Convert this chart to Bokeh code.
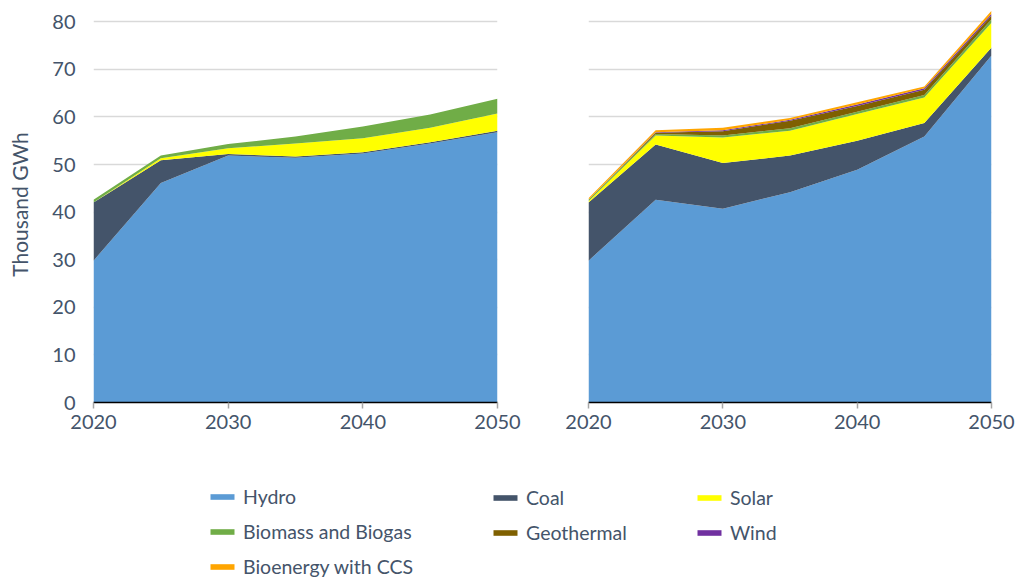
from bokeh.plotting import figure
from bokeh.layouts import column, row
from bokeh.models import ColumnDataSource, FixedTicker, Legend, LegendItem, Range1d
from bokeh.embed import file_html
from bokeh.resources import INLINE

years = [2020, 2025, 2030, 2035, 2040, 2045, 2050]
series = ["Hydro", "Coal", "Solar", "Biomass and Biogas", "Geothermal", "Wind", "Bioenergy with CCS"]
colors = ["#5B9BD5", "#44546A", "#FFFF00", "#70AD47", "#7F6000", "#7030A0", "#FFA500"]

# Left scenario (thousand GWh)
left_hydro = [29.8, 46.1, 51.9, 51.4, 52.3, 54.4, 56.8]
left_coal = [12.2, 4.8, 0.3, 0.3, 0.3, 0.3, 0.3]
left_solar = [0.0, 0.4, 1.2, 2.7, 2.9, 3.0, 3.6]
left_biomass = [0.6, 0.6, 0.9, 1.5, 2.5, 2.8, 3.1]
left_geothermal = [0.0, 0.0, 0.0, 0.0, 0.0, 0.0, 0.0]
left_wind = [0.0, 0.0, 0.0, 0.0, 0.0, 0.0, 0.0]
left_ccs = [0.0, 0.0, 0.0, 0.0, 0.0, 0.0, 0.0]

# Right scenario (thousand GWh)
right_hydro = [29.8, 42.6, 40.7, 44.2, 48.9, 55.9, 72.9]
right_coal = [12.2, 11.6, 9.6, 7.7, 6.1, 2.8, 1.7]
right_solar = [0.3, 1.9, 5.4, 5.2, 5.6, 5.4, 5.2]
right_biomass = [0.3, 0.3, 0.4, 0.5, 0.5, 0.5, 0.7]
right_geothermal = [0.0, 0.3, 0.9, 1.6, 1.2, 1.1, 0.8]
right_wind = [0.0, 0.1, 0.2, 0.2, 0.3, 0.3, 0.4]
right_ccs = [0.3, 0.4, 0.5, 0.4, 0.5, 0.4, 0.6]

y_ticks = [0, 10, 20, 30, 40, 50, 60, 70, 80]
x_ticks = [2020, 2030, 2040, 2050]

FONT = "Lato"
TXT = "#44546A"

left_vals = [left_hydro, left_coal, left_solar, left_biomass, left_geothermal, left_wind, left_ccs]
right_vals = [right_hydro, right_coal, right_solar, right_biomass, right_geothermal, right_wind, right_ccs]


def make_source(vals):
    d = {"year": years}
    for name, v in zip(series, vals):
        d[name] = v
    return ColumnDataSource(d)


def make_fig(vals, width, left_border, right_border, show_y):
    p = figure(width=width, height=442, output_backend="svg", toolbar_location=None,
               x_range=Range1d(2020, 2050), y_range=Range1d(0, 83.2),
               min_border_left=left_border, min_border_right=right_border,
               min_border_top=6, min_border_bottom=40)
    p.outline_line_color = None
    src = make_source(vals)
    p.varea_stack(stackers=series, x="year", color=colors, source=src)
    p.xgrid.grid_line_color = None
    p.ygrid.grid_line_color = "#D9D9D9"
    p.ygrid.grid_line_width = 1.5
    p.ygrid.ticker = FixedTicker(ticks=y_ticks)
    p.xaxis.ticker = FixedTicker(ticks=x_ticks)
    p.xaxis.axis_line_color = "#000000"
    p.xaxis.axis_line_width = 1.5
    p.xaxis.major_tick_line_color = "#A6A6A6"
    p.xaxis.major_tick_line_width = 1.5
    p.xaxis.major_tick_out = 6
    p.xaxis.major_tick_in = 0
    p.xaxis.minor_tick_line_color = None
    p.xaxis.major_label_text_font = FONT
    p.xaxis.major_label_text_font_size = "20px"
    p.xaxis.major_label_text_color = TXT
    p.xaxis.major_label_standoff = 6
    p.yaxis.ticker = FixedTicker(ticks=y_ticks)
    if show_y:
        p.yaxis.axis_line_color = None
        p.yaxis.major_tick_line_color = None
        p.yaxis.minor_tick_line_color = None
        p.yaxis.major_label_text_font = FONT
        p.yaxis.major_label_text_font_size = "20px"
        p.yaxis.major_label_text_color = TXT
        p.yaxis.major_label_standoff = 12
        p.yaxis.axis_label = "Thousand GWh"
        p.yaxis.axis_label_text_font = FONT
        p.yaxis.axis_label_text_font_size = "21px"
        p.yaxis.axis_label_text_font_style = "normal"
        p.yaxis.axis_label_text_color = TXT
        p.yaxis.axis_label_standoff = 17
    else:
        p.yaxis.visible = False
    return p


p1 = make_fig(left_vals, 522, 93, 25, True)
p2 = make_fig(right_vals, 499, 66, 30, False)

# Legend figure: the stacked series are drawn off-view, only their legend swatches show
pl = figure(width=1021, height=139, output_backend="svg", toolbar_location=None,
            x_range=Range1d(0, 1), y_range=Range1d(0, 1),
            min_border_left=0, min_border_right=0, min_border_top=0, min_border_bottom=0)
pl.axis.visible = False
pl.grid.visible = False
pl.outline_line_color = None
leg_renderers = pl.varea_stack(stackers=series, x="year", color=colors, source=make_source(right_vals))
renderers = dict(zip(series, leg_renderers))

columns = [
    (["Hydro", "Biomass and Biogas", "Bioenergy with CCS"], 207),
    (["Coal", "Geothermal"], 490),
    (["Solar", "Wind"], 694),
]
for names, xpos in columns:
    n = len(names)
    h = n * 22 + (n - 1) * 12
    bottom = 139 - 46 - h
    leg = Legend(items=[LegendItem(label=nm, renderers=[renderers[nm]]) for nm in names],
                 location=(xpos, bottom), orientation="vertical",
                 padding=0, margin=0, spacing=12, label_height=22,
                 glyph_width=30, glyph_height=7, label_standoff=6,
                 border_line_color=None, background_fill_alpha=0,
                 label_text_font=FONT, label_text_font_size="19.5px", label_text_color=TXT)
    pl.add_layout(leg)

layout = column(row(p1, p2), pl)
open("out.html", "w").write(file_html(layout, INLINE))
